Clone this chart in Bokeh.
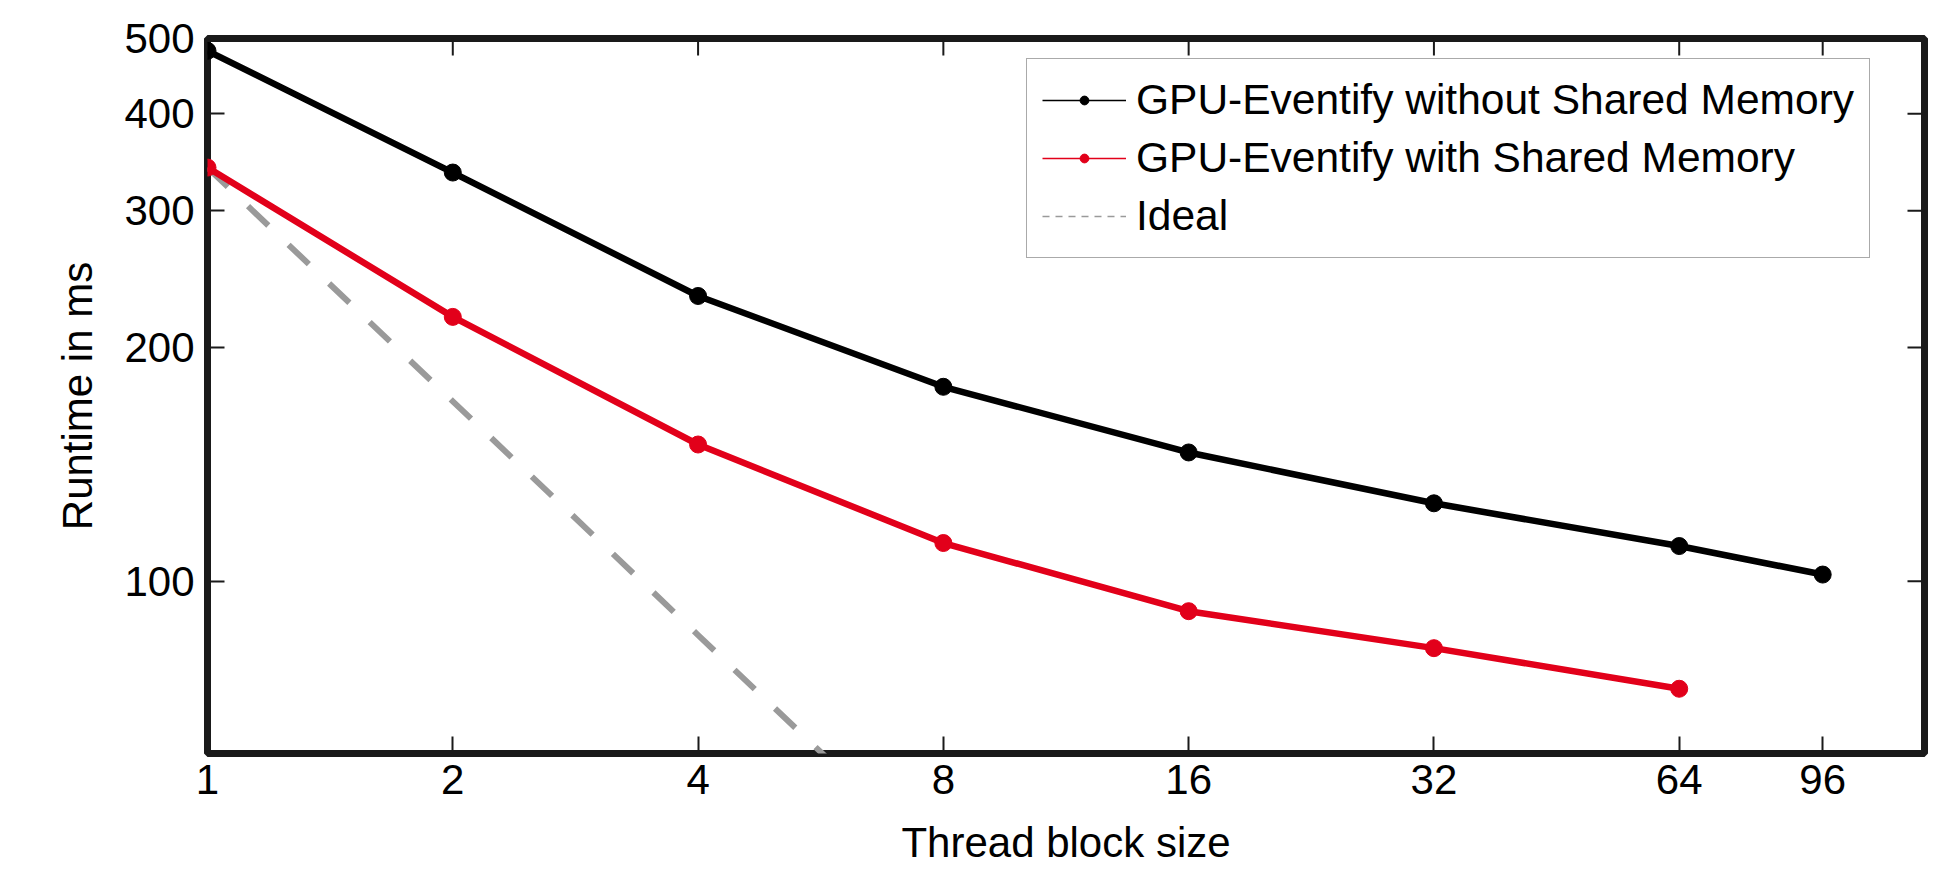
from bokeh.plotting import figure
from bokeh.models import (FixedTicker, NumeralTickFormatter, Legend,
                          LegendItem, Range1d)
from bokeh.embed import file_html
from bokeh.resources import INLINE

# ---- data ----
block_sizes = [1, 2, 4, 8, 16, 32, 64, 96]
no_shared_ms = [482, 336, 233, 178, 146.5, 126, 111, 102]
shared_block_sizes = [1, 2, 4, 8, 16, 32, 64]
shared_ms = [341, 219, 150, 112, 91.5, 82, 72.7]
ideal_block_sizes = [1, 2, 4, 8, 16, 32, 64]
ideal_ms = [341, 170.5, 85.25, 42.6, 21.3, 10.7, 5.3]
x_ticks = [1, 2, 4, 8, 16, 32, 64, 96]
y_ticks = [100, 200, 300, 400, 500]
x_limits = [1, 128]
y_limits = [60, 500]
series_labels = ["GPU-Eventify without Shared Memory",
                 "GPU-Eventify with Shared Memory", "Ideal"]
legend_dummy = [float("nan")]

FONT = "Liberation Sans"
FS = "42px"
BLACK = "#000000"
RED = "#e2001a"
GRAY = "#9a9a9a"
FRAME = "#1a1a1a"

p = figure(width=1951, height=874, x_axis_type="log", y_axis_type="log",
           x_range=Range1d(*x_limits), y_range=Range1d(*y_limits),
           output_backend="svg", toolbar_location=None,
           min_border_left=207, min_border_right=27,
           min_border_top=38, min_border_bottom=121)
p.grid.visible = False
p.outline_line_color = FRAME
p.outline_line_width = 7
p.background_fill_color = "white"
p.border_fill_color = "white"


def style_axis(ax, ticks):
    ax.ticker = FixedTicker(ticks=ticks, minor_ticks=[])
    ax.formatter = NumeralTickFormatter(format="0")
    ax.axis_line_color = None
    ax.major_tick_in = 17
    ax.major_tick_out = 0
    ax.major_tick_line_color = FRAME
    ax.major_tick_line_width = 2
    ax.minor_tick_line_color = None
    ax.major_label_text_font = FONT
    ax.major_label_text_font_size = FS
    ax.major_label_text_color = "black"
    ax.axis_label_text_font = FONT
    ax.axis_label_text_font_size = FS
    ax.axis_label_text_font_style = "normal"
    ax.axis_label_text_color = "black"


xb = p.xaxis[0]
yl = p.yaxis[0]
style_axis(xb, x_ticks)
style_axis(yl, y_ticks)
xb.axis_label = "Thread block size"
yl.axis_label = "Runtime in ms"
xb.major_label_standoff = 11
xb.axis_label_standoff = 22
xb.axis_label_text_line_height = 1.0
yl.major_label_standoff = 13
yl.axis_label_standoff = 20

# mirrored inward ticks on the top and right frame edges
p.ray(x=x_ticks, y=[y_limits[1]] * len(x_ticks), length=17,
      length_units="screen", angle=-90, angle_units="deg",
      line_color=FRAME, line_width=2)
p.ray(x=[x_limits[1]] * len(y_ticks), y=y_ticks, length=17,
      length_units="screen", angle=180, angle_units="deg",
      line_color=FRAME, line_width=2)

# ---- data renderers ----
p.line(ideal_block_sizes, ideal_ms, line_color=GRAY, line_width=6,
       line_dash="28 28")
p.line(block_sizes, no_shared_ms, line_color=BLACK, line_width=6.5)
p.scatter(block_sizes, no_shared_ms, size=17, color=BLACK)
p.line(shared_block_sizes, shared_ms, line_color=RED, line_width=6.5)
p.scatter(shared_block_sizes, shared_ms, size=17, color=RED)

# ---- legend-only glyphs (thin, as in the reference legend) ----
lb_line = p.line(legend_dummy, legend_dummy, line_color=BLACK, line_width=1.5)
lb_dot = p.scatter(legend_dummy, legend_dummy, size=7, color=BLACK)
lr_line = p.line(legend_dummy, legend_dummy, line_color=RED, line_width=1.5)
lr_dot = p.scatter(legend_dummy, legend_dummy, size=7, color=RED)
lg_line = p.line(legend_dummy, legend_dummy, line_color=GRAY, line_width=1.5,
                 line_dash="7 6")

legend = Legend(items=[
    LegendItem(label=series_labels[0], renderers=[lb_line, lb_dot]),
    LegendItem(label=series_labels[1], renderers=[lr_line, lr_dot]),
    LegendItem(label=series_labels[2], renderers=[lg_line]),
], location=(819, 495))
legend.border_line_color = "#555555"
legend.border_line_width = 1.5
legend.background_fill_color = "white"
legend.background_fill_alpha = 1
legend.label_text_font = FONT
legend.label_text_font_size = "42.5px"
legend.label_text_color = "black"
legend.glyph_width = 84
legend.glyph_height = 22
legend.label_height = 52
legend.label_standoff = 10
legend.padding = 15
legend.spacing = 6
legend.margin = 0
p.add_layout(legend)

open("out.html", "w").write(file_html(p, INLINE))
